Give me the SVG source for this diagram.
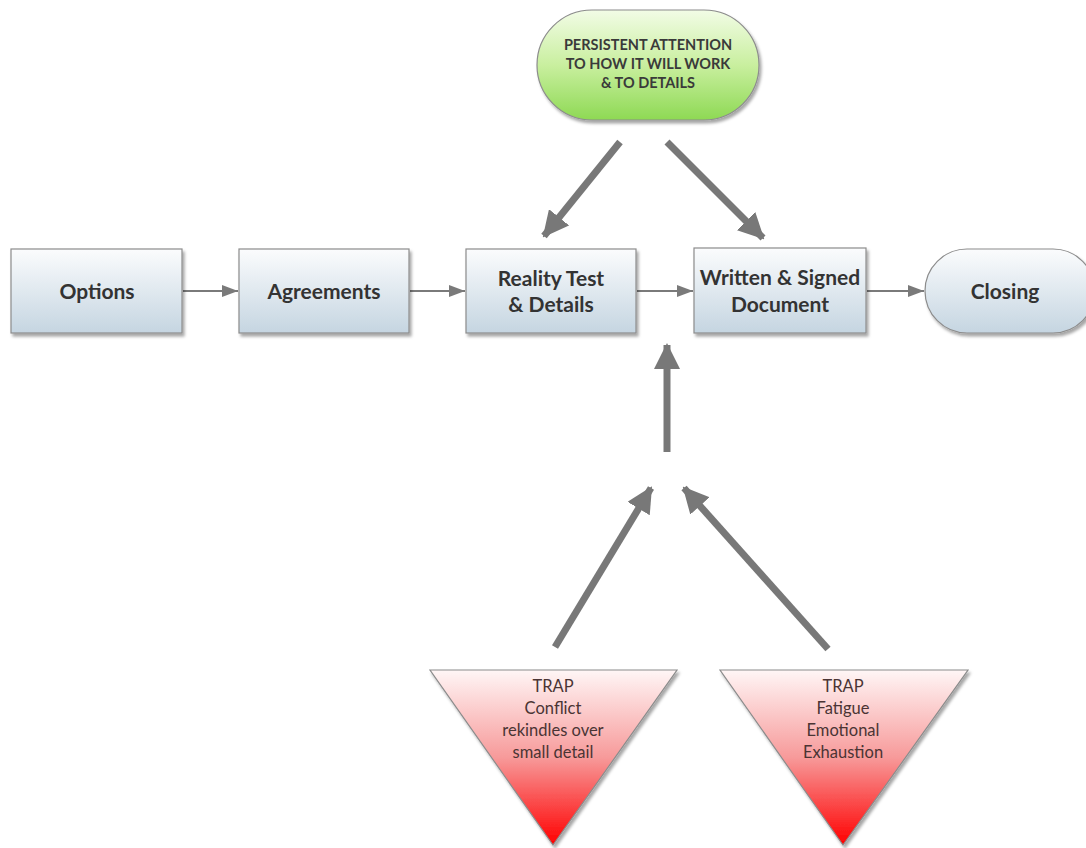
<svg xmlns="http://www.w3.org/2000/svg" width="1086" height="848" viewBox="0 0 1086 848">
<defs>
<linearGradient id="boxg" x1="0" y1="0" x2="0" y2="1">
<stop offset="0" stop-color="#fbfcfd"/>
<stop offset="1" stop-color="#c5d5e1"/>
</linearGradient>
<linearGradient id="greeng" x1="0" y1="0" x2="0" y2="1">
<stop offset="0" stop-color="#f2fce6"/>
<stop offset="0.5" stop-color="#c9ef9f"/>
<stop offset="1" stop-color="#8ed954"/>
</linearGradient>
<linearGradient id="redg" x1="0" y1="0" x2="0" y2="1">
<stop offset="0" stop-color="#fff6f6"/>
<stop offset="0.5" stop-color="#f79a9a"/>
<stop offset="1" stop-color="#ff0000"/>
</linearGradient>
<filter id="sh" x="-10%" y="-10%" width="130%" height="130%">
<feDropShadow dx="2" dy="3" stdDeviation="1.5" flood-color="#000" flood-opacity="0.35"/>
</filter>
<marker id="sm" markerUnits="userSpaceOnUse" markerWidth="16" markerHeight="12" refX="16" refY="6" orient="auto">
<path d="M0,0 L16,6 L0,12 z" fill="#7a7a7a"/>
</marker>
<marker id="big" markerUnits="userSpaceOnUse" markerWidth="26" markerHeight="26" refX="24" refY="13" orient="auto">
<path d="M0,0 L26,13 L0,26 z" fill="#787878"/>
</marker>
</defs>
<style>
.box{fill:url(#boxg);stroke:#8c8c8c;stroke-width:1.2;filter:url(#sh)}
.bt{font-family:Lato,"Open Sans",sans-serif;font-weight:bold;font-size:21px;fill:#333;text-anchor:middle}
.gt{font-family:Lato,"Open Sans",sans-serif;font-weight:bold;font-size:14.5px;fill:#3a3a3a;text-anchor:middle}
.tri{fill:url(#redg);stroke:#8c8c8c;stroke-width:1.2;filter:url(#sh)}
.tt{font-family:Lato,"Open Sans",sans-serif;font-size:16.5px;fill:#4a3434;text-anchor:middle}
.thin{stroke:#7a7a7a;stroke-width:2;fill:none;marker-end:url(#sm)}
.thick{stroke:#787878;stroke-width:7;fill:none;marker-end:url(#big)}
</style>
<g id="connectors">
<line class="thin" x1="183" y1="291" x2="238" y2="291"/>
<line class="thin" x1="410" y1="291" x2="465" y2="291"/>
<line class="thin" x1="637" y1="291" x2="693" y2="291"/>
<line class="thin" x1="867" y1="291" x2="924" y2="291"/>
<line class="thick" x1="620" y1="142" x2="544" y2="236"/>
<line class="thick" x1="667" y1="142" x2="763" y2="238"/>
<line class="thick" x1="667" y1="452" x2="667" y2="345"/>
<line class="thick" x1="555" y1="647" x2="651" y2="488"/>
<line class="thick" x1="828" y1="649" x2="684" y2="488"/>
</g>
<g id="attention">
<rect x="537" y="10" width="222" height="110" rx="55" fill="url(#greeng)" stroke="#8c8c8c" stroke-width="1.2" filter="url(#sh)"/>
<text class="gt" x="648" y="50">PERSISTENT ATTENTION</text>
<text class="gt" x="648" y="69">TO HOW IT WILL WORK</text>
<text class="gt" x="648" y="88">&amp; TO DETAILS</text>
</g>
<g id="options">
<rect class="box" x="11" y="249" width="171" height="84"/>
<text class="bt" x="97" y="299">Options</text>
</g>
<g id="agreements">
<rect class="box" x="239" y="249" width="170" height="84"/>
<text class="bt" x="324" y="299">Agreements</text>
</g>
<g id="reality">
<rect class="box" x="466" y="249" width="170" height="84"/>
<text class="bt" x="551" y="286">Reality Test</text>
<text class="bt" x="551" y="312">&amp; Details</text>
</g>
<g id="written">
<rect class="box" x="694" y="248" width="172" height="85"/>
<text class="bt" x="780" y="285">Written &amp; Signed</text>
<text class="bt" x="780" y="312">Document</text>
</g>
<g id="closing">
<rect class="box" x="925" y="249" width="170" height="84" rx="42"/>
<text class="bt" x="1005" y="299">Closing</text>
</g>
<g id="trap1">
<polygon class="tri" points="430,670 677,670 553,845"/>
<text class="tt" x="553" y="692">TRAP</text>
<text class="tt" x="553" y="714">Conflict</text>
<text class="tt" x="553" y="736">rekindles over</text>
<text class="tt" x="553" y="758">small detail</text>
</g>
<g id="trap2">
<polygon class="tri" points="720,670 968,670 843,845"/>
<text class="tt" x="843" y="692">TRAP</text>
<text class="tt" x="843" y="714">Fatigue</text>
<text class="tt" x="843" y="736">Emotional</text>
<text class="tt" x="843" y="758">Exhaustion</text>
</g>
</svg>
